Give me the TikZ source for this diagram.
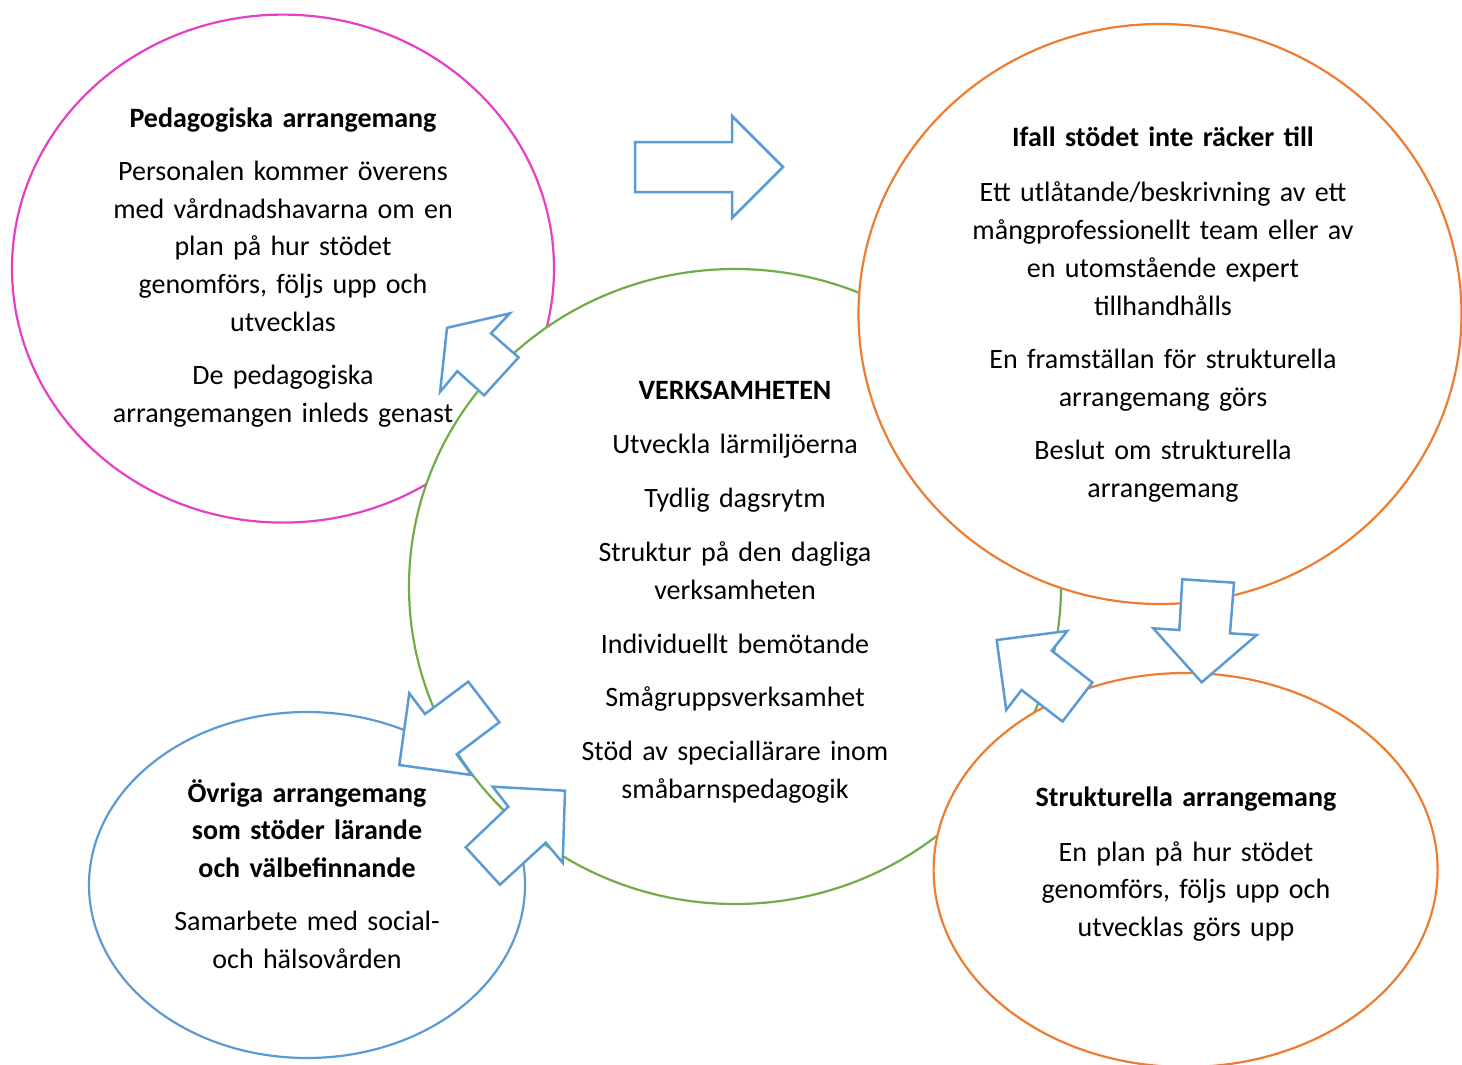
\documentclass[tikz,border=0pt]{standalone}
\usepackage{fontspec}
\setmainfont{Carlito}
\usetikzlibrary{shapes.geometric}
\definecolor{cpink}{HTML}{E63FC6}
\definecolor{corange}{HTML}{ED7D31}
\definecolor{cgreen}{HTML}{70AD47}
\definecolor{cblue}{HTML}{5B9BD5}
\begin{document}
\begin{tikzpicture}[x=1pt,y=-1pt,
  ell/.style={ellipse, draw=#1, fill=white, line width=2.2pt, inner sep=0pt},
  blockarr/.style={draw=cblue, fill=white, line width=2.5pt, line join=miter},
  txt/.style={anchor=base, align=center, text width=480pt, inner sep=0pt,
    font=\fontsize{28}{37.8}\selectfont}]
\useasboundingbox (0,0) rectangle (1462,1065);
\clip (0,0) rectangle (1462,1065);
% ellipses (order matters: later ones cover earlier)
\node[ell=cpink, minimum width=542pt, minimum height=508pt] (ped) at (283,268.6) {};
\node[ell=cblue, minimum width=436pt, minimum height=346pt] (ovr) at (307,885) {};
\node[ell=cgreen, minimum width=652pt, minimum height=635pt] (verk) at (735,586.5) {};
\node[ell=corange, minimum width=603pt, minimum height=580pt] (ifall) at (1160,314) {};
\node[ell=corange, minimum width=504pt, minimum height=394pt] (strukt) at (1185.6,870) {};
% block arrows
\draw[blockarr] (635,142) -- (732,142) -- (732,116) -- (783,167) -- (732,218) -- (732,192) -- (635,192) -- cycle;
\draw[blockarr] (447,327.8) -- (509.8,313.4) -- (491,333.3) -- (518.6,357.4) -- (484.1,395.3) -- (457.3,371.2) -- (440.1,391.9) -- cycle;
\draw[blockarr] (399.3,765) -- (409.3,693.3) -- (425,714) -- (468.3,681.7) -- (499.3,722.3) -- (456.7,754.3) -- (471.7,775) -- cycle;
\draw[blockarr] (565,790.7) -- (562.7,862.7) -- (545.7,842.7) -- (500,884.7) -- (465.7,847.3) -- (508.3,806.7) -- (492.7,786.7) -- cycle;
\draw[blockarr] (996.7,640) -- (1067.3,631) -- (1051.7,650.7) -- (1092.4,682.5) -- (1062.5,721.5) -- (1021.5,690) -- (1006.2,710) -- cycle;
\draw[blockarr] (1201.7,682.3) -- (1153.3,628.3) -- (1179.3,630) -- (1182.3,579.3) -- (1234,582.7) -- (1230,633.3) -- (1256.7,635) -- cycle;
% texts
\node[txt] (tped) at (283,127.4) {\textbf{Pedagogiska arrangemang}\\[15pt]
  Personalen kommer överens\\ med vårdnadshavarna om en\\ plan på hur stödet\\ genomförs, följs upp och\\ utvecklas\\[15.5pt]
  De pedagogiska\\ arrangemangen inleds genast};
\node[txt] (tverk) at (735,399) {\textbf{VERKSAMHETEN}\\[17pt]
  Utveckla lärmiljöerna\\[16pt] Tydlig dagsrytm\\[16.5pt]
  Struktur på den dagliga\\ verksamheten\\[16pt]
  Individuellt bemötande\\[15.5pt] Smågruppsverksamhet\\[16pt]
  Stöd av speciallärare inom\\ småbarnspedagogik};
\node[txt] (tifall) at (1163,146.3) {\textbf{Ifall stödet inte räcker till}\\[17.5pt]
  Ett utlåtande/beskrivning av ett\\ mångprofessionellt team eller av\\ en utomstående expert\\ tillhandhålls\\[15.5pt]
  En framställan för strukturella\\ arrangemang görs\\[16pt]
  Beslut om strukturella\\ arrangemang};
\node[txt] (tovr) at (307,802) {{\bfseries Övriga arrangemang\\ som stöder lärande\\ och välbefinnande}\\[15.5pt]
  Samarbete med social-\\ och hälsovården};
\node[txt] (tstrukt) at (1186,806.7) {\textbf{Strukturella arrangemang}\\[16.5pt]
  En plan på hur stödet\\ genomförs, följs upp och\\ utvecklas görs upp};
\end{tikzpicture}
\end{document}
